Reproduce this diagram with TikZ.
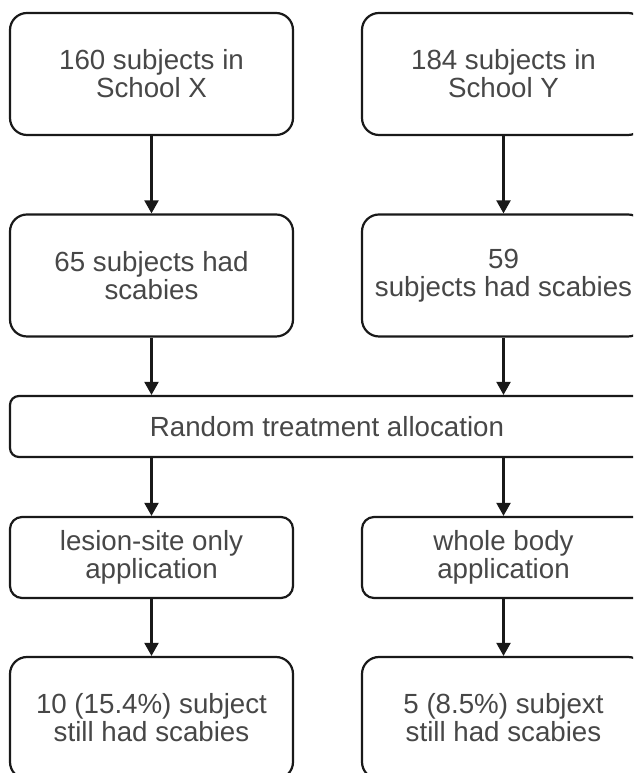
\documentclass[tikz,border=0pt]{standalone}
\usepackage{fontspec}
\setmainfont{Liberation Sans}
\usetikzlibrary{arrows.meta}

\begin{document}
\begin{tikzpicture}[x=1pt,y=1pt,
   box/.style={draw=black!90,line width=2.2pt,fill=white,text=black!72,align=center,
    font=\fontsize{27.7pt}{28pt}\selectfont,inner sep=0pt,minimum width=283pt},
   tall/.style={box,minimum height=122pt,rounded corners=17pt},
   flat/.style={box,minimum height=81pt,rounded corners=12pt},
   arr/.style={draw=black!90,line width=2.2pt,-{Triangle[length=13pt,width=14pt]}}]
   \clip (0,0) rectangle (633,773);
   \node[tall] (schoolx) at (151.5,699) {160 subjects in\\School X};
   \node[tall] (schooly) at (503.5,699) {184 subjects in\\School Y};
   \node[tall] (scabx) at (151.5,497.5) {65 subjects had\\scabies};
   \node[tall] (scaby) at (503.5,497.5) {59\\subjects had scabies};
   \node[box,minimum width=634pt,minimum height=61pt,rounded corners=9pt]
    (random) at (327,346.5) {Random treatment allocation};
   \node[flat] (lesion) at (151.5,215.5) {lesion-site only\\application};
   \node[flat] (whole) at (503.5,215.5) {whole body\\application};
   \node[tall] (stillx) at (151.5,55) {10 (15.4\%) subject\\still had scabies};
   \node[tall] (stilly) at (503.5,55) {5 (8.5\%) subjext\\still had scabies};
   \foreach \a/\b in {schoolx/scabx,schooly/scaby,lesion/stillx,whole/stilly}
    \draw[arr] (\a) -- (\b);
   \foreach \a in {scabx,scaby}
    \draw[arr] (\a) -- (\a |- random.north);
   \foreach \b in {lesion,whole}
    \draw[arr] (\b |- random.south) -- (\b);
\end{tikzpicture}
\end{document}
